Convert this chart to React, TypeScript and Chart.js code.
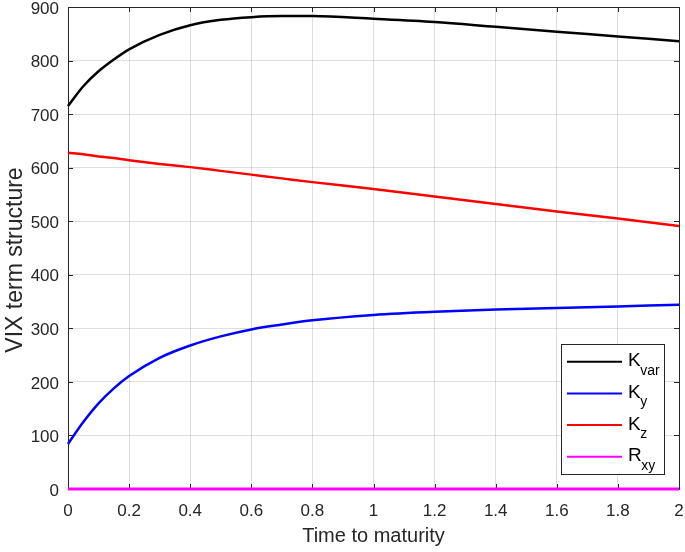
import React, { useEffect, useRef } from 'react';
import { Chart, registerables } from 'chart.js';

Chart.register(...registerables);

// ---- data ----
const maturities = [0, 0.05, 0.1, 0.15, 0.2, 0.3, 0.4, 0.5, 0.6, 0.7, 0.8, 1.0, 1.2, 1.4, 1.6, 1.8, 2.0];
const kVar = [715, 752, 780, 802, 821, 848, 866, 876, 881, 883, 883, 878, 872, 863, 854, 845, 836];
const kY = [84, 125, 160, 188, 211, 245, 268, 285, 298, 307, 315, 325, 331, 335, 338, 341, 344];
const kZ = [628, 625, 621, 618, 614, 607, 601, 594, 587, 580, 573, 560, 546, 532, 518, 505, 491];
const rXY = [0, 0, 0, 0, 0, 0, 0, 0, 0, 0, 0, 0, 0, 0, 0, 0, 0];

const xTickValues = [0, 0.2, 0.4, 0.6, 0.8, 1, 1.2, 1.4, 1.6, 1.8, 2];
const xTickLabels = ['0', '0.2', '0.4', '0.6', '0.8', '1', '1.2', '1.4', '1.6', '1.8', '2'];
const yTickValues = [0, 100, 200, 300, 400, 500, 600, 700, 800, 900];
const yTickLabels = ['0', '100', '200', '300', '400', '500', '600', '700', '800', '900'];

const seriesMain = ['K', 'K', 'K', 'R'];
const seriesSub = ['var', 'y', 'z', 'xy'];
const seriesValues = [kVar, kY, kZ, rXY];
const seriesColors = ['#000000', '#0000ff', '#ff0000', '#ff00ff'];
const seriesWidths = [2.5, 2.5, 2.5, 3];

const xTitle = 'Time to maturity';
const yTitle = 'VIX term structure';

const FONT = '"Liberation Sans", Arial, Helvetica, sans-serif';
const TEXT = '#262626';

const framePlugin = {
  id: 'frame',
  beforeDatasetsDraw(chart: any) {
    const { ctx, chartArea: a, scales } = chart;
    ctx.save();
    ctx.strokeStyle = TEXT;
    ctx.lineWidth = 1;
    ctx.beginPath();
    const tl = 5;
    xTickValues.forEach((v) => {
      const px = Math.round(scales.x.getPixelForValue(v)) + 0.5;
      ctx.moveTo(px, a.bottom);
      ctx.lineTo(px, a.bottom - tl);
      ctx.moveTo(px, a.top);
      ctx.lineTo(px, a.top + tl);
    });
    yTickValues.forEach((v) => {
      const py = Math.round(scales.y.getPixelForValue(v)) + 0.5;
      ctx.moveTo(a.left, py);
      ctx.lineTo(a.left + tl, py);
      ctx.moveTo(a.right, py);
      ctx.lineTo(a.right - tl, py);
    });
    ctx.stroke();
    ctx.strokeRect(Math.round(a.left) + 0.5, Math.round(a.top) + 0.5, Math.round(a.right - a.left), Math.round(a.bottom - a.top));
    ctx.restore();
  },
  afterDraw(chart: any) {
    const { ctx, chartArea: a } = chart;
    ctx.save();
    // axis titles
    ctx.fillStyle = TEXT;
    ctx.textAlign = 'center';
    ctx.textBaseline = 'middle';
    ctx.font = `20px ${FONT}`;
    ctx.fillText(xTitle, (a.left + a.right) / 2, a.bottom + 47.5);
    ctx.translate(a.left - 52, (a.top + a.bottom) / 2 + 12);
    ctx.rotate(-Math.PI / 2);
    ctx.font = `23px ${FONT}`;
    ctx.fillText(yTitle, 0, 0);
    ctx.restore();

    // legend
    ctx.save();
    const w = 103;
    const h = 130;
    const x0 = Math.round(a.right - 15 - w);
    const y0 = Math.round(a.bottom - 15 - h);
    ctx.fillStyle = '#ffffff';
    ctx.fillRect(x0, y0, w, h);
    ctx.strokeStyle = TEXT;
    ctx.lineWidth = 1;
    ctx.strokeRect(x0 + 0.5, y0 + 0.5, w, h);
    chart.data.datasets.forEach((ds: any, i: number) => {
      const cy = y0 + 17.7 + i * 31.7;
      ctx.strokeStyle = ds.borderColor;
      ctx.lineWidth = 2;
      ctx.beginPath();
      ctx.moveTo(x0 + 6, cy);
      ctx.lineTo(x0 + 61, cy);
      ctx.stroke();
      ctx.fillStyle = '#000000';
      ctx.textAlign = 'left';
      ctx.textBaseline = 'alphabetic';
      ctx.font = `19px ${FONT}`;
      ctx.fillText(seriesMain[i], x0 + 67, cy + 4.5);
      const mw = ctx.measureText(seriesMain[i]).width;
      ctx.font = `14px ${FONT}`;
      ctx.fillText(seriesSub[i], x0 + 67 + mw - 0.5, cy + 13);
    });
    ctx.restore();
  },
};

export default function App() {
  const ref = useRef<HTMLCanvasElement>(null);

  useEffect(() => {
    if (!ref.current) return;
    const chart = new Chart(ref.current, {
      type: 'line',
      data: {
        datasets: seriesValues.map((vals, i) => ({
          label: seriesMain[i] + seriesSub[i],
          data: maturities.map((x, j) => ({ x, y: vals[j] })),
          borderColor: seriesColors[i],
          backgroundColor: seriesColors[i],
          borderWidth: seriesWidths[i],
          pointRadius: 0,
          cubicInterpolationMode: 'monotone' as const,
          clip: false as any,
          order: seriesValues.length - i,
        })),
      },
      options: {
        animation: false,
        responsive: false,
        layout: { padding: { top: 7, right: 6, left: 0, bottom: 0 } },
        plugins: { legend: { display: false }, tooltip: { enabled: false } },
        scales: {
          x: {
            type: 'linear',
            min: 0,
            max: 2,
            afterBuildTicks: (s: any) => {
              s.ticks = xTickValues.map((v) => ({ value: v }));
            },
            afterFit: (s: any) => {
              s.height = 63;
              s.paddingLeft = 0;
              s.paddingRight = 0;
            },
            ticks: {
              callback: (_v: any, i: number) => xTickLabels[i],
              font: { family: FONT, size: 17 },
              color: TEXT,
              padding: 12,
              maxRotation: 0,
              autoSkip: false,
            },
            grid: { color: 'rgba(38,38,38,0.15)', drawTicks: false },
            border: { display: false },
          },
          y: {
            type: 'linear',
            min: 0,
            max: 900,
            afterBuildTicks: (s: any) => {
              s.ticks = yTickValues.map((v) => ({ value: v }));
            },
            afterFit: (s: any) => {
              s.width = 68;
              s.paddingTop = 0;
              s.paddingBottom = 0;
            },
            ticks: {
              callback: (_v: any, i: number) => yTickLabels[i],
              font: { family: FONT, size: 17 },
              color: TEXT,
              padding: 9,
              labelOffset: 2,
              autoSkip: false,
            },
            grid: { color: 'rgba(38,38,38,0.15)', drawTicks: false },
            border: { display: false },
          },
        },
      } as any,
      plugins: [framePlugin],
    });
    return () => chart.destroy();
  }, []);

  return (
    <div style={{ position: 'absolute', left: 0, top: 0, width: 685, height: 552, background: '#ffffff' }}>
      <canvas ref={ref} width={685} height={552} style={{ display: 'block' }} />
    </div>
  );
}
